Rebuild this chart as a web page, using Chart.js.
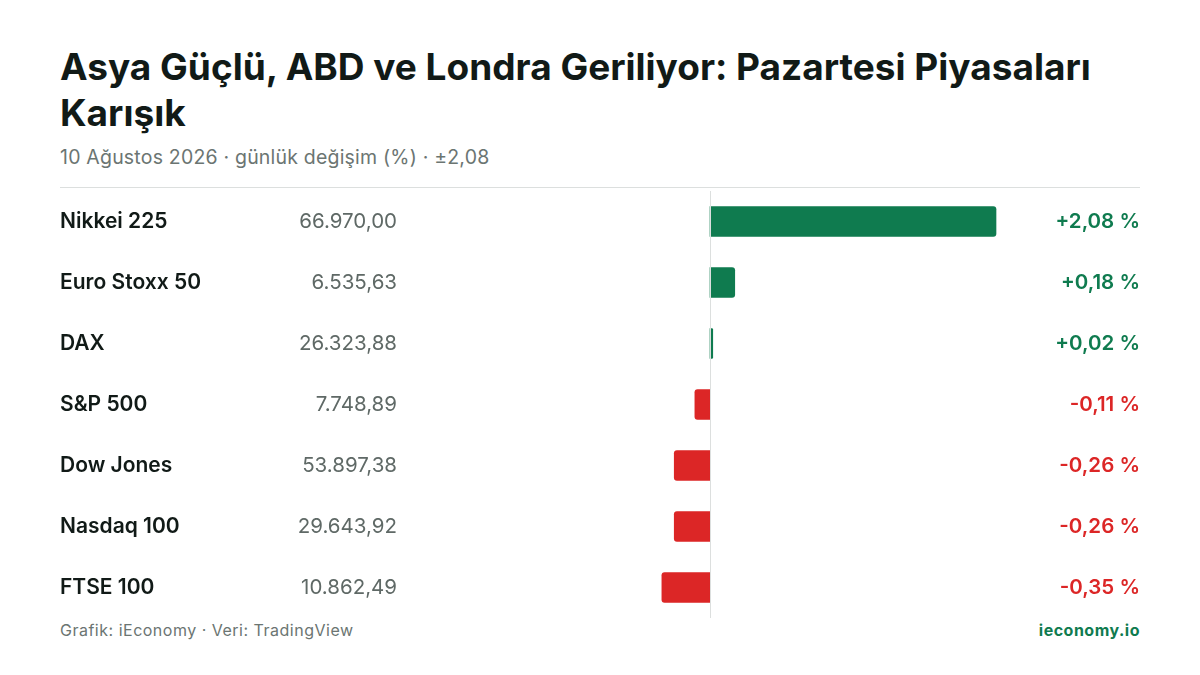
<!DOCTYPE html>
<html><head><meta charset="utf-8">
<script src="https://cdn.jsdelivr.net/npm/chart.js@4"></script>
<style>
body{margin:0;width:1200px;height:675px;background:#fff;font-family:Inter,sans-serif;position:relative;overflow:hidden}
h1{position:absolute;left:60px;top:44px;width:1100px;margin:0;font-size:37px;line-height:46px;font-weight:700;color:#111a17}
.sub{position:absolute;left:60px;top:145px;font-size:19.5px;color:#6b7572;letter-spacing:0.2px}
.rule{position:absolute;left:60px;top:187px;width:1080px;height:1px;background:#dcdfde}
#wrap{position:absolute;left:60px;top:191px;width:1080px;height:427px}
.foot{position:absolute;top:620px;font-size:16px;color:#6b7572;letter-spacing:0.5px}
</style></head><body>
<h1>Asya Güçlü, ABD ve Londra Geriliyor: Pazartesi Piyasaları Karışık</h1>
<div class="sub">10 Ağustos 2026 · günlük değişim (%) · ±2,08</div>
<div class="rule"></div>
<div id="wrap"><canvas id="c"></canvas></div>
<div class="foot" style="left:60px">Grafik: iEconomy · Veri: TradingView</div>
<div class="foot" style="right:60px;color:#0f7b4f;font-weight:700">ieconomy.io</div>
<script>
const names = ['Nikkei 225', 'Euro Stoxx 50', 'DAX', 'S&P 500', 'Dow Jones', 'Nasdaq 100', 'FTSE 100'];
const prices = ['66.970,00', '6.535,63', '26.323,88', '7.748,89', '53.897,38', '29.643,92', '10.862,49'];
const changes = [2.08, 0.18, 0.02, -0.11, -0.26, -0.26, -0.35];
const GREEN = '#0f7b4f', RED = '#dc2626';

const fmt = v => (v > 0 ? '+' : '') + v.toFixed(2).replace('.', ',') + ' %';

const textPlugin = {
  id: 'rowText',
  afterDraw(chart) {
    const ctx = chart.ctx, y = chart.scales.y, x = chart.scales.x;
    const x0 = x.getPixelForValue(0);
    ctx.save();
    ctx.strokeStyle = '#dcdfde'; ctx.lineWidth = 1;
    ctx.beginPath(); ctx.moveTo(x0 + 0.5, 0); ctx.lineTo(x0 + 0.5, chart.height); ctx.stroke();
    ctx.textBaseline = 'middle';
    names.forEach((n, i) => {
      const py = y.getPixelForValue(i);
      ctx.font = '600 21px Inter'; ctx.fillStyle = '#111a17'; ctx.textAlign = 'left';
      ctx.fillText(n, 0, py);
      ctx.font = '400 20.5px Inter'; ctx.fillStyle = '#5f6966'; ctx.textAlign = 'right';
      ctx.fillText(prices[i], 337, py);
      ctx.font = '600 20.5px Inter'; ctx.fillStyle = changes[i] >= 0 ? GREEN : RED;
      ctx.fillText(fmt(changes[i]), chart.width, py);
    });
    ctx.restore();
  }
};

new Chart(document.getElementById('c'), {
  type: 'bar',
  data: { labels: names, datasets: [{
    data: changes,
    backgroundColor: changes.map(v => v >= 0 ? GREEN : RED),
    barThickness: 30,
    borderRadius: 3,
    borderSkipped: 'start'
  }]},
  options: {
    indexAxis: 'y', responsive: true, maintainAspectRatio: false, animation: false,
    layout: { padding: 0 },
    plugins: { legend: { display: false }, tooltip: { enabled: false } },
    scales: {
      x: { display: false, min: -650 / 137.5, max: 430 / 137.5 },
      y: { display: false }
    }
  },
  plugins: [textPlugin]
});
</script>
</body></html>
